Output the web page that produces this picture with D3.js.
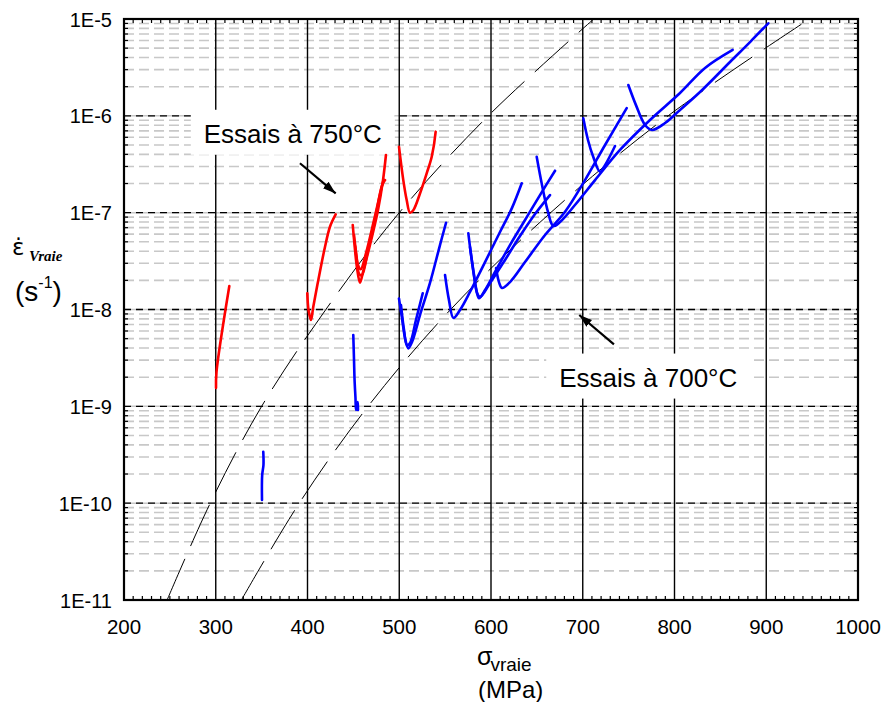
<!DOCTYPE html>
<html><head><meta charset="utf-8">
<script src="https://cdn.jsdelivr.net/npm/d3@7"></script>
<style>body{margin:0;background:#fff}</style>
</head><body><svg id="c" width="887" height="702"></svg>
<script>
// ---------- data ----------
const xTicks = [200, 300, 400, 500, 600, 700, 800, 900, 1000];
const yTicks = [1e-11, 1e-10, 1e-9, 1e-8, 1e-7, 1e-6, 1e-5];
const yTickLabels = ["1E-11", "1E-10", "1E-9", "1E-8", "1E-7", "1E-6", "1E-5"];

// dashed fit lines [stress MPa, strain rate s-1]
const fit750 = [[247,1e-11],[294,1e-10],[350,1e-9],[420,1e-8],[500,1e-7],[597,1e-6],[712,1e-5]];
const fit700 = [[328,1e-11],[391,1e-10],[466,1e-9],[556,1e-8],[665,1e-7],[793,1e-6],[947,1e-5]];

// tests at 750°C (red)
const r750_a = [[300.3,1.55e-9],[300.8,2.26e-9],[314.8,1.75e-8]];
const r750_b = [[399.8,1.47e-8],[401.1,9.9e-9],[403.8,7.8e-9],[406.3,1.07e-8],[411.8,2.02e-8],[419.1,4.45e-8],[424.5,7.16e-8],[430.7,9.6e-8]];
const r750_c = [[449.3,7.46e-8],[451.8,4.11e-8],[454,2.68e-8],[457.2,1.89e-8],[460.5,2.44e-8],[468.1,4.63e-8],[476.8,1.06e-7],[482.3,2.17e-7],[485.5,3.94e-7]];
const r750_d = [[450.7,5.88e-8],[453.5,3.5e-8],[456.5,2.3e-8],[459.4,2.27e-8],[466,4.2e-8],[474,9e-8],[481.2,1.9e-7],[484.5,2.17e-7]];
const r750_e = [[452,4.5e-8],[455,2.9e-8],[458,2.6e-8],[464,3.9e-8],[472,8e-8],[480,1.7e-7],[483,2.2e-7]];
const r750_f = [[499.7,4.8e-7],[504.4,2.17e-7],[508.1,1.35e-7],[511.7,1.0e-7],[515.3,1.06e-7],[522.6,1.58e-7],[529.9,2.55e-7],[535.4,3.78e-7],[539.7,6.86e-7]];

// tests at 700°C (blue)
const b700_a = [[351.8,3.4e-10],[352.0,2.48e-10],[350.6,1.95e-10],[350.4,1.08e-10]];
const b700_b = [[449.9,5.45e-9],[450.7,3.01e-9],[451.3,1.87e-9],[452.3,1.22e-9],[452.9,9.16e-10],[454.8,1.11e-9],[455.0,9.16e-10]];
const b700_c = [[499.7,1.3e-8],[503.0,8.17e-9],[506.3,5.08e-9],[509.9,3.97e-9],[513.9,4.61e-9],[522.6,8.77e-9],[533.5,1.88e-8],[544.4,4.63e-8],[551.0,7.87e-8]];
const b700_d = [[501.9,1.11e-8],[505.2,6.14e-9],[508.4,4.3e-9],[511.7,4.51e-9],[518.2,7.79e-9],[525.6,1.47e-8]];
const b700_e = [[549.9,2.27e-8],[554.2,1.25e-8],[559.1,8.17e-9],[566.2,9.88e-9],[577.1,1.52e-8],[593.5,3.09e-8],[609.8,6.31e-8],[622.9,1.12e-7],[633.5,2.01e-7]];
const b700_f = [[575.3,6.12e-8],[579.3,3.09e-8],[583.7,1.67e-8],[586.9,1.31e-8],[593.5,1.59e-8],[604.4,2.44e-8],[620.7,4.63e-8],[637.1,8.4e-8],[653.4,1.52e-7],[669.8,2.71e-7]];
const b700_g = [[577.1,4.42e-8],[581.5,2.27e-8],[584.8,1.48e-8],[588.1,1.35e-8],[599.0,1.88e-8],[615.3,3.25e-8],[631.6,5.74e-8],[648.0,9.69e-8],[664.3,1.52e-7]];
const b700_h = [[605.5,2.68e-8],[608.7,1.92e-8],[612.0,1.67e-8],[620.7,1.92e-8],[637.1,3.09e-8],[658.9,5.88e-8],[680.7,1.02e-7],[702.5,2.17e-7],[724.3,5.0e-7],[747.9,1.2e-6]];
const b700_i = [[649.8,3.78e-7],[655.6,1.93e-7],[662.1,1.02e-7],[667.9,7.28e-8],[675.2,8.0e-8],[691.5,1.2e-7],[713.4,2.17e-7],[740.6,4.44e-7],[773.3,9.06e-7],[806.0,1.72e-6],[833.3,3.12e-6],[863.4,4.79e-6]];
const b700_j = [[700.6,9.42e-7],[705.7,5.63e-7],[711.5,3.76e-7],[718.8,2.65e-7],[724.3,3.1e-7],[735.2,4.88e-7]];
const b700_k = [[749.7,2.08e-6],[758.0,1.29e-6],[767.9,8.04e-7],[775.5,7.14e-7],[789.7,8.43e-7],[806.0,1.15e-6],[827.8,1.76e-6],[860.5,3.6e-6],[882.3,5.78e-6],[902.2,9.03e-6]];

const redCurves = [r750_a, r750_b, r750_c, r750_d, r750_e, r750_f];
const blueCurves = [b700_a, b700_b, b700_c, b700_d, b700_e, b700_f, b700_g, b700_h, b700_i, b700_j, b700_k];

// annotations (data coords)
const labels = [
  {text: "Essais à 750°C", x: 384, y: 5.27e-7, arrowFrom: [391.8, 3.24e-7], arrowTo: [430.7, 1.58e-7]},
  {text: "Essais à 700°C", x: 771.4, y: 1.6e-9, arrowFrom: [734, 4.37e-9], arrowTo: [696.2, 8.77e-9]}
];

// ---------- drawing ----------
const svg = d3.select("#c");
const L = 124, R = 858, T = 19, B = 600;
const x = d3.scaleLinear().domain([200, 1000]).range([L, R]);
const y = d3.scaleLog().domain([1e-11, 1e-5]).range([B, T]);
const font = "'Liberation Sans', Arial, Helvetica, sans-serif";

svg.append("defs").append("clipPath").attr("id", "clip")
  .append("rect").attr("x", L).attr("y", T).attr("width", R - L).attr("height", B - T);

const grid = svg.append("g");
// minor horizontal gray dashed
const minorY = [];
for (let k = -11; k < -5; k++) for (let m = 2; m <= 9; m++) minorY.push(m * Math.pow(10, k));
grid.selectAll(".mny").data(minorY).join("line")
  .attr("x1", L).attr("x2", R).attr("y1", d => y(d)).attr("y2", d => y(d))
  .attr("stroke", "#c8c8c8").attr("stroke-width", 1.6).attr("stroke-dasharray", "10,5");
// major horizontal: gray + black dashed
const majorY = yTicks.slice(1, -1);
grid.selectAll(".mjg").data(majorY).join("line")
  .attr("x1", L).attr("x2", R).attr("y1", d => y(d)).attr("y2", d => y(d))
  .attr("stroke", "#c8c8c8").attr("stroke-width", 1.5);
grid.selectAll(".mjb").data(majorY).join("line")
  .attr("x1", L).attr("x2", R).attr("y1", d => y(d)).attr("y2", d => y(d))
  .attr("stroke", "#000").attr("stroke-width", 1.3).attr("stroke-dasharray", "7,5");
// vertical major lines
grid.selectAll(".vx").data(xTicks.slice(1, -1)).join("line")
  .attr("x1", d => x(d)).attr("x2", d => x(d)).attr("y1", T).attr("y2", B)
  .attr("stroke", "#000").attr("stroke-width", 1.4);

// minor ticks
const minorX = d3.range(200, 1001, 10).filter(v => v % 100 !== 0);
const tk = svg.append("g").attr("stroke", "#000").attr("stroke-width", 1.2);
tk.selectAll(".tb").data(minorX).join("line")
  .attr("x1", d => x(d)).attr("x2", d => x(d)).attr("y1", B).attr("y2", B - 4);
tk.selectAll(".tt").data(minorX).join("line")
  .attr("x1", d => x(d)).attr("x2", d => x(d)).attr("y1", T).attr("y2", T + 4);
tk.selectAll(".tl").data(minorY).join("line")
  .attr("x1", L).attr("x2", L + 4).attr("y1", d => y(d)).attr("y2", d => y(d));
tk.selectAll(".tr").data(minorY).join("line")
  .attr("x1", R).attr("x2", R - 4).attr("y1", d => y(d)).attr("y2", d => y(d));

// label boxes + texts
const lab = svg.append("g");
labels.forEach(l => {
  const t = lab.append("text").attr("x", x(l.x)).attr("y", y(l.y))
    .attr("text-anchor", "middle").attr("font-family", font).attr("font-size", 26)
    .attr("fill", "#000").text(l.text);
  const bb = t.node().getBBox();
  lab.insert("rect", "text").attr("x", bb.x - 13).attr("y", bb.y - 9)
    .attr("width", bb.width + 26).attr("height", bb.height + 15).attr("fill", "#fff");
});

// fit lines
const fitLine = d3.line().x(d => x(d[0])).y(d => y(d[1])).curve(d3.curveCatmullRom);
const fits = svg.append("g").attr("clip-path", "url(#clip)");
[fit750, fit700].forEach(f => {
  fits.append("path").attr("d", fitLine(f)).attr("fill", "none")
    .attr("stroke", "#000").attr("stroke-width", 1).attr("stroke-dasharray", "45,14");
});

// curves
const curveLine = d3.line().x(d => x(d[0])).y(d => y(d[1])).curve(d3.curveCatmullRom.alpha(0.5));
const cg = svg.append("g").attr("clip-path", "url(#clip)");
redCurves.forEach(c => cg.append("path").attr("d", curveLine(c)).attr("fill", "none")
  .attr("stroke", "#ff0000").attr("stroke-width", 2.6).attr("stroke-linejoin", "round").attr("stroke-linecap", "round"));
blueCurves.forEach(c => cg.append("path").attr("d", curveLine(c)).attr("fill", "none")
  .attr("stroke", "#0000ff").attr("stroke-width", 2.6).attr("stroke-linejoin", "round").attr("stroke-linecap", "round"));

// arrows
svg.append("defs").append("marker").attr("id", "ah")
  .attr("viewBox", "0 0 12 8").attr("refX", 12).attr("refY", 4)
  .attr("markerWidth", 13).attr("markerHeight", 9).attr("markerUnits", "userSpaceOnUse")
  .attr("orient", "auto")
  .append("path").attr("d", "M0,0 L12,4 L0,8 Z").attr("fill", "#000");
labels.forEach(l => {
  svg.append("line").attr("x1", x(l.arrowFrom[0])).attr("y1", y(l.arrowFrom[1]))
    .attr("x2", x(l.arrowTo[0])).attr("y2", y(l.arrowTo[1]))
    .attr("stroke", "#000").attr("stroke-width", 2.2).attr("marker-end", "url(#ah)");
});

// frame
svg.append("rect").attr("x", L).attr("y", T).attr("width", R - L).attr("height", B - T)
  .attr("fill", "none").attr("stroke", "#000").attr("stroke-width", 2.2);

// tick labels
svg.append("g").selectAll("text").data(xTicks).join("text")
  .attr("x", d => x(d)).attr("y", 634).attr("text-anchor", "middle")
  .attr("font-family", font).attr("font-size", 20.5).text(d => d);
svg.append("g").selectAll("text").data(yTicks).join("text")
  .attr("x", 112).attr("y", d => y(d) + 7.5).attr("text-anchor", "end")
  .attr("font-family", font).attr("font-size", 20).text((d, i) => yTickLabels[i]);

// axis titles
const xt = svg.append("text").attr("x", 477).attr("y", 665).attr("font-family", font);
xt.append("tspan").attr("font-size", 25).text("σ");
xt.append("tspan").attr("font-size", 19).attr("dy", 6).attr("dx", -2).text("vraie");
svg.append("text").attr("x", 478).attr("y", 698).attr("font-family", font).attr("font-size", 24).text("(MPa)");

svg.append("text").attr("x", 12).attr("y", 255).attr("font-family", "'DejaVu Sans', sans-serif")
  .attr("font-size", 23).text("\u03B5\u0307");
svg.append("text").attr("x", 29).attr("y", 260.7).attr("font-family", "'Liberation Serif', 'Times New Roman', serif")
  .attr("font-size", 15).attr("font-weight", "bold").attr("font-style", "italic").text("Vraie");
const st = svg.append("text").attr("x", 15).attr("y", 301).attr("font-family", font).attr("font-size", 28);
st.append("tspan").text("(s");
st.append("tspan").attr("font-size", 16).attr("dy", -13).text("-1");
st.append("tspan").attr("dy", 13).text(")");
</script></body></html>
